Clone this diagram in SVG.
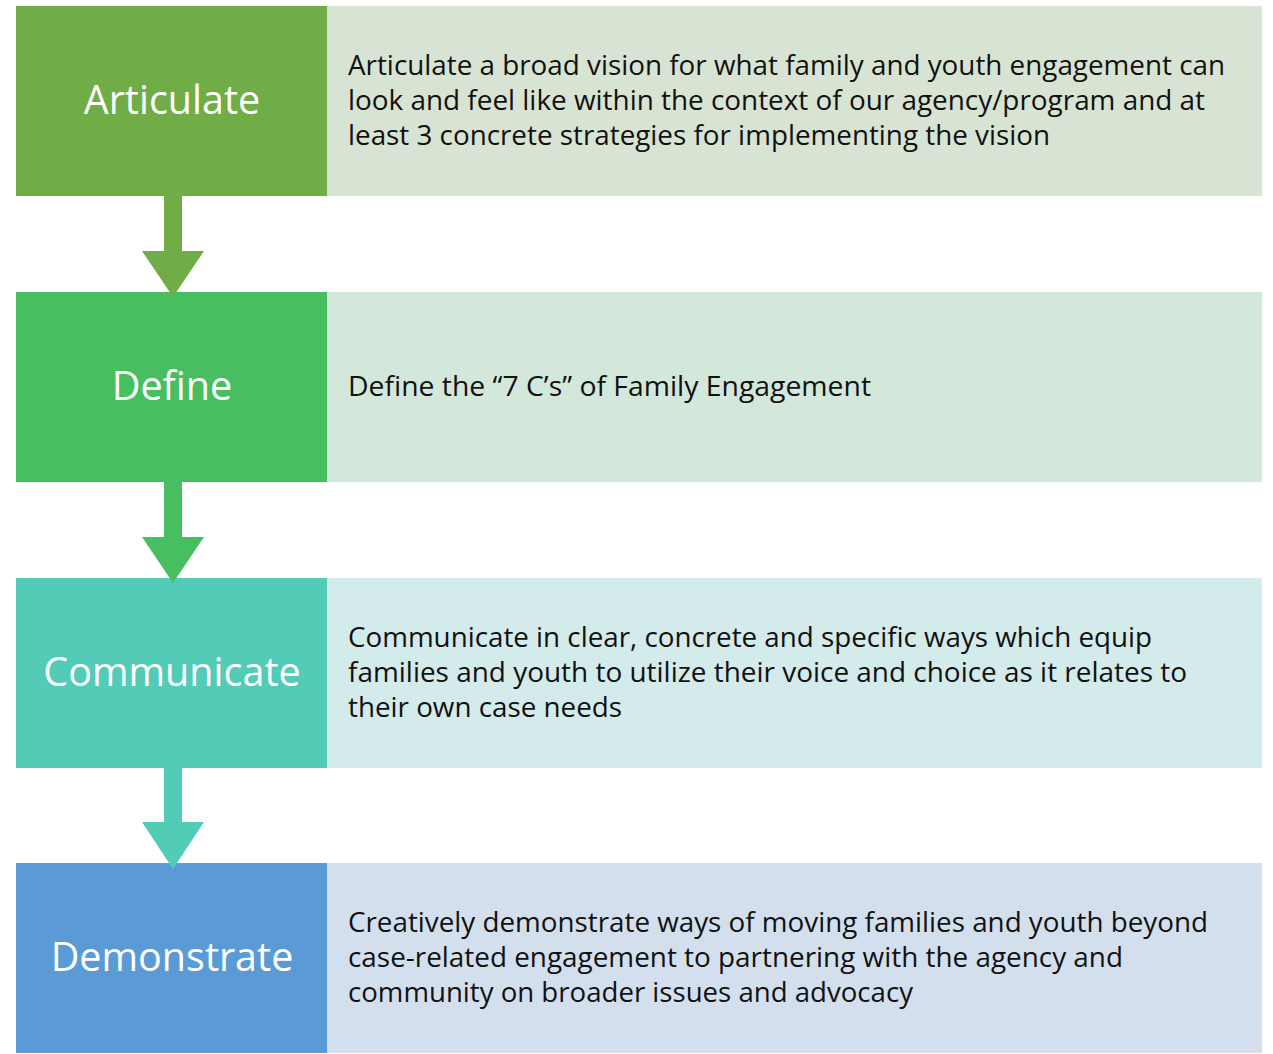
<svg xmlns="http://www.w3.org/2000/svg" width="1273" height="1054" viewBox="0 0 1273 1054">
<style>
.lbl{font-family:"Open Sans","Liberation Sans",sans-serif;font-size:39.5px;fill:#ffffff;text-anchor:middle}
.txt{font-family:"Open Sans","Liberation Sans",sans-serif;font-size:26.6px;fill:#111111}
</style>
<rect width="1273" height="1054" fill="#ffffff"/>
<g id="articulate">
<rect x="327" y="6" width="935" height="190" fill="#D8E4D3"/>
<rect x="16" y="6" width="311" height="190" fill="#70AD47"/>
<text class="lbl" x="172" y="114">Articulate</text>
<text class="txt" x="348" y="75" textLength="877" lengthAdjust="spacingAndGlyphs">Articulate a broad vision for what family and youth engagement can</text>
<text class="txt" x="348" y="110" textLength="857" lengthAdjust="spacingAndGlyphs">look and feel like within the context of our agency/program and at</text>
<text class="txt" x="348" y="145" textLength="702" lengthAdjust="spacingAndGlyphs">least 3 concrete strategies for implementing the vision</text>
</g>
<g id="define">
<rect x="327" y="292" width="935" height="190" fill="#D3E7DB"/>
<rect x="16" y="292" width="311" height="190" fill="#47BF60"/>
<text class="lbl" x="172" y="400">Define</text>
<text class="txt" x="348" y="396" textLength="523" lengthAdjust="spacingAndGlyphs">Define the “7 C’s” of Family Engagement</text>
</g>
<g id="communicate">
<rect x="327" y="578" width="935" height="190" fill="#D3EBEA"/>
<rect x="16" y="578" width="311" height="190" fill="#52CBB7"/>
<text class="lbl" x="172" y="686">Communicate</text>
<text class="txt" x="348" y="647" textLength="804" lengthAdjust="spacingAndGlyphs">Communicate in clear, concrete and specific ways which equip</text>
<text class="txt" x="348" y="682" textLength="839" lengthAdjust="spacingAndGlyphs">families and youth to utilize their voice and choice as it relates to</text>
<text class="txt" x="348" y="717" textLength="274" lengthAdjust="spacingAndGlyphs">their own case needs</text>
</g>
<g id="demonstrate">
<rect x="327" y="863" width="935" height="190" fill="#D4DFEE"/>
<rect x="16" y="863" width="311" height="190" fill="#5B9BD5"/>
<text class="lbl" x="172" y="971">Demonstrate</text>
<text class="txt" x="348" y="932" textLength="860" lengthAdjust="spacingAndGlyphs">Creatively demonstrate ways of moving families and youth beyond</text>
<text class="txt" x="348" y="967" textLength="775" lengthAdjust="spacingAndGlyphs">case-related engagement to partnering with the agency and</text>
<text class="txt" x="348" y="1002" textLength="565" lengthAdjust="spacingAndGlyphs">community on broader issues and advocacy</text>
</g>
<g id="connectors">
<path d="M164,196 H182 V251 H204 L173,297 L142,251 H164 Z" fill="#70AD47"/>
<path d="M164,482 H182 V537 H204 L173,583 L142,537 H164 Z" fill="#47BF60"/>
<path d="M164,768 H182 V822 H204 L173,869 L142,822 H164 Z" fill="#52CBB7"/>
</g>
</svg>
